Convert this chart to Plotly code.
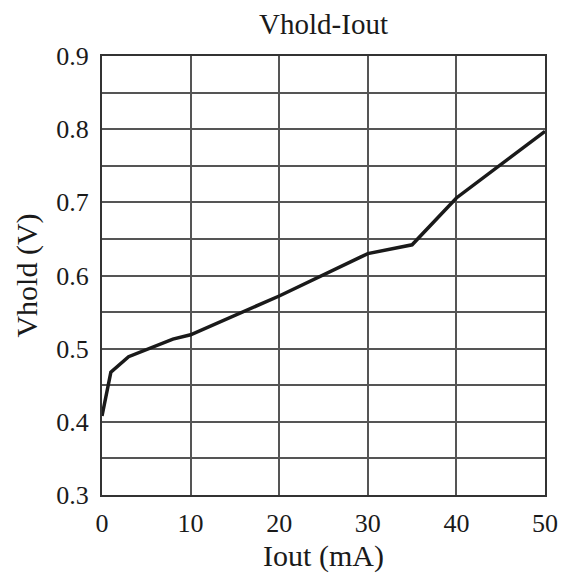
import plotly.graph_objects as go

iout = [0, 1, 3, 8, 10, 20, 30, 35, 40, 50]
vhold = [0.408, 0.468, 0.489, 0.513, 0.519, 0.572, 0.630, 0.642, 0.706, 0.797]

x_ticks = [0, 10, 20, 30, 40, 50]
y_ticks = [0.3, 0.4, 0.5, 0.6, 0.7, 0.8, 0.9]

font = "Liberation Serif"

W, H = 562, 572  # page body has an 8px margin

fig = go.Figure()
fig.add_trace(go.Scatter(x=iout, y=vhold, mode="lines",
                         line=dict(color="#1a1a1a", width=3.5), showlegend=False))

fig.update_layout(
    width=W, height=H,
    margin=dict(l=94, r=23, t=48, b=85),
    paper_bgcolor="white", plot_bgcolor="white",
    font=dict(family=font, size=26, color="#1a1a1a"),
    title=dict(text="Vhold-Iout", x=0.5, xanchor="center", xref="paper",
               y=1 - (24 - 8) / H, yanchor="middle", font=dict(family=font, size=29, color="#1a1a1a")),
)
fig.update_xaxes(range=[0, 50], tickvals=x_ticks, ticktext=[str(v) for v in x_ticks],
                 showgrid=True, gridcolor="#555555", gridwidth=1.5,
                 showline=True, linecolor="#333333", linewidth=2, mirror=True,
                 ticks="", zeroline=False, ticklabelstandoff=4,
                 title=dict(text="Iout (mA)", font=dict(family=font, size=30), standoff=8))
fig.update_yaxes(range=[0.3, 0.9], tickvals=y_ticks, ticktext=[f"{v:.1f}" for v in y_ticks],
                 showgrid=True, gridcolor="#555555", gridwidth=1.5,
                 minor=dict(dtick=0.05, showgrid=True, gridcolor="#555555", gridwidth=1.5, ticks=""),
                 showline=True, linecolor="#333333", linewidth=2, mirror=True,
                 ticks="", zeroline=False, ticklabelstandoff=6,
                 title=dict(text="Vhold (V)", font=dict(family=font, size=30), standoff=10))

fig.write_html("out.html")
